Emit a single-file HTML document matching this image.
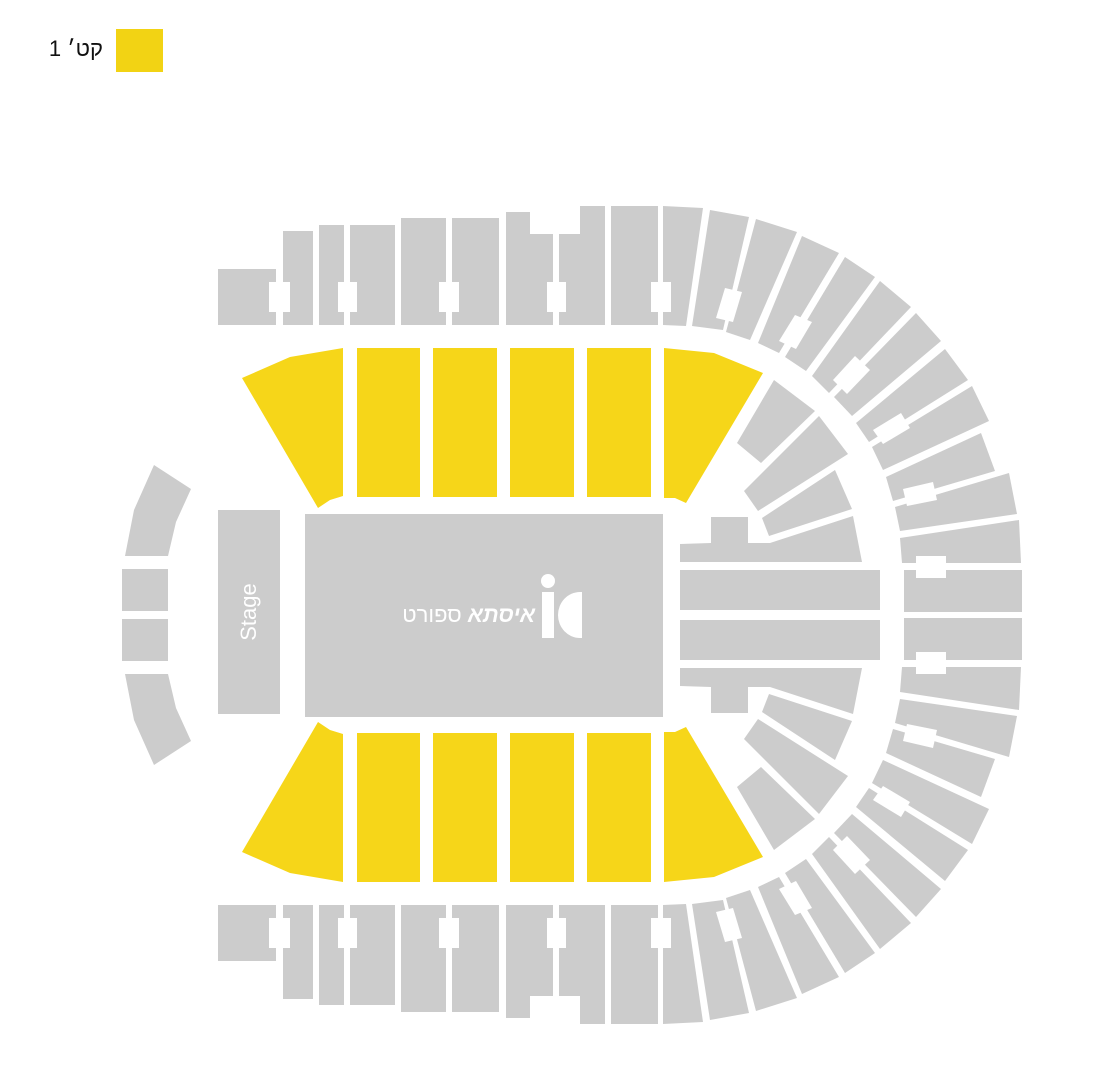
<!DOCTYPE html>
<html><head><meta charset="utf-8"><style>
html,body{margin:0;padding:0;background:#fff;}
svg{display:block;}
#lg{position:absolute;right:1009px;top:36px;direction:rtl;font-family:"Liberation Sans",sans-serif;font-size:22px;color:#111;white-space:nowrap;line-height:26px;}
</style></head><body>
<div id="lg">קט׳ 1</div>
<svg width="1112" height="1078" viewBox="0 0 1112 1078" xmlns="http://www.w3.org/2000/svg">
<rect x="116" y="29" width="47" height="43" fill="#f2d314"/>

<defs>
<g id="half">
  <g fill="#cccccc">
    <rect x="218" y="269" width="58" height="56"/>
    <rect x="283" y="231" width="30" height="94"/>
    <rect x="319" y="225" width="25" height="100"/>
    <rect x="350" y="225" width="45" height="100"/>
    <rect x="401" y="218" width="45" height="107"/>
    <rect x="452" y="218" width="47" height="107"/>
    <polygon points="506,212 530,212 530,234 553,234 553,325 506,325"/>
    <polygon points="559,234 580,234 580,206 605,206 605,325 559,325"/>
    <rect x="611" y="206" width="47" height="119"/>
    <polygon points="663,206 703,208 686,326 663,325"/>
    <polygon points="710,210 749,217 723,330 692,326"/>
    <polygon points="756,219 797,232 750,340 726,332"/>
    <polygon points="802,236 839,253 779,353 758,343"/>
    <polygon points="845,257 875,277 806,371 785,357"/>
    <polygon points="880,281 911,307 829,393 812,376"/>
    <polygon points="916,313 941,341 852,416 834,397"/>
    <polygon points="945,349 968,380 869,442 856,423"/>
    <polygon points="972,386 989,421 883,470 872,447"/>
    <polygon points="981,433 995,471 893,501 886,477"/>
    <polygon points="1009,473 1017,514 900,531 895,507"/>
    <polygon points="1019,520 1021,563 902,563 900,538"/>
    <rect x="904" y="570" width="118" height="42"/>
    <polygon points="774,380 815,411 761,463 737,443"/>
    <polygon points="819,416 848,454 758,511 744,491"/>
    <polygon points="835,470 852,509 769,536 762,518"/>
    <polygon points="853,516 862,562 680,562 680,544 711,543 711,517 748,517 748,543 770,543"/>
    <rect x="680" y="570" width="200" height="40"/>
    <polygon points="154,465 191,489 176,522 168,556 125,556 134,510"/>
    <rect x="122" y="569" width="46" height="42"/>
  </g>
  <g fill="#fff">
    <rect x="269" y="282" width="21" height="30"/>
    <rect x="338" y="282" width="19" height="30"/>
    <rect x="439" y="282" width="20" height="30"/>
    <rect x="547" y="282" width="19" height="30"/>
    <rect x="651" y="282" width="20" height="30"/>
    <polygon points="725,288 742,292 733,322 716,318"/>
    <polygon points="795,315 812,322 796,349 779,341"/>
    <polygon points="855,356 870,370 847,394 833,380"/>
    <polygon points="901,413 910,428 883,444 873,430"/>
    <polygon points="933,482 937,500 907,506 903,489"/>
    <rect x="916" y="556" width="30" height="22"/>
  </g>
  <g fill="#f6d619">
    <polygon points="242,378 290,357 343,348 343,496 330,500 318,508"/>
    <rect x="357" y="348" width="63" height="149"/>
    <rect x="433" y="348" width="64" height="149"/>
    <rect x="510" y="348" width="64" height="149"/>
    <rect x="587" y="348" width="64" height="149"/>
    <polygon points="664,348 714,353 763,373 686,503 675,498 664,498"/>
  </g>
</g>
</defs>
<use href="#half"/>
<use href="#half" transform="matrix(1,0,0,-1,0,1230)"/>

<rect x="218" y="510" width="62" height="204" fill="#cccccc"/>
<text transform="translate(256,612) rotate(-90)" text-anchor="middle" font-family="Liberation Sans, sans-serif" font-size="22" fill="#fff">Stage</text>
<rect x="305" y="514" width="358" height="203" fill="#cccccc"/>
<text x="535" y="622" text-anchor="start" direction="rtl" font-family="Liberation Sans, 'Noto Sans CJK SC', sans-serif" font-size="22" fill="#fff"><tspan font-weight="bold" font-style="italic">איסתא</tspan> ספורט</text>
<circle cx="548" cy="581" r="7" fill="#fff"/>
<rect x="542" y="592" width="12" height="46" fill="#fff"/>
<path d="M582,592 L582,638 L580,638 A22,23 0 0 1 580,592 Z" fill="#fff"/>
</svg>
</body></html>
